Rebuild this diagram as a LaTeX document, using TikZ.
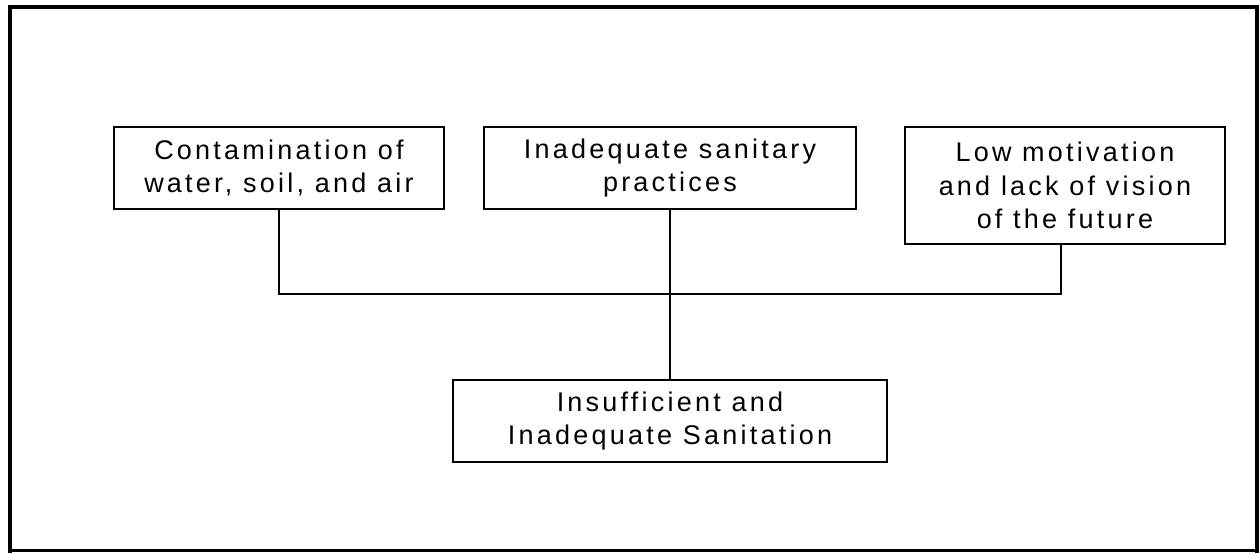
\documentclass[tikz,border=0pt]{standalone}
\usepackage{fontspec}
\setmainfont{Liberation Sans}[LetterSpace=12]
\begin{document}
\begin{tikzpicture}[x=1pt,y=-1pt,
  box/.style={draw=black,line width=2pt,align=center,inner sep=0pt,
    font=\fontsize{27}{33.5}\selectfont},
  link/.style={line width=2pt}]
\useasboundingbox (0,0) rectangle (1259,554);
% frame
\draw[line width=4pt] (10,553) -- (10,7) -- (1257,7) -- (1257,553);
\draw[line width=2.5pt] (10,550.5) -- (1257,550.5);
% boxes
\node[box,minimum width=330pt,minimum height=82pt] (b1) at (279,168) {Contamination of\\water, soil, and air};
\node[box,minimum width=372pt,minimum height=82pt] (b2) at (670,168) {Inadequate sanitary\\practices};
\node[box,minimum width=320pt,minimum height=117pt] (b3) at (1065,185.5) {Low motivation\\and lack of vision\\of the future};
\node[box,minimum width=434pt,minimum height=82pt] (b4) at (670,421) {Insufficient and\\Inadequate Sanitation};
% connectors
\coordinate (j3) at (1061,294);
\draw[link] (b1.south) |- (j3) -- (b3.south -| j3);
\draw[link] (b2.south) -- (b4.north);
\end{tikzpicture}
\end{document}
